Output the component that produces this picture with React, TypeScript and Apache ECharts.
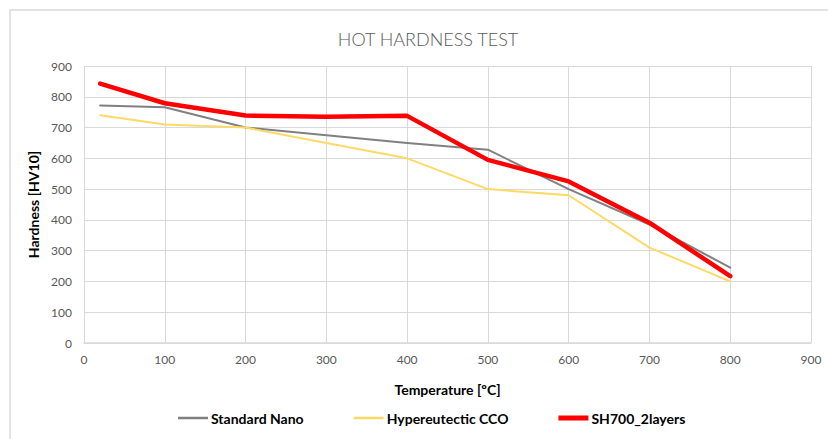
import React, { useEffect, useRef } from "react";
import * as echarts from "echarts";

const temperatures = [20, 100, 200, 300, 400, 500, 600, 700, 800];
const standardNano = [772, 766, 700, 675, 650, 628, 500, 385, 245];
const hypereutecticCCO = [740, 710, 700, 650, 600, 500, 480, 310, 200];
const sh700TwoLayers = [843, 779, 739, 735, 738, 595, 525, 391, 217];

const seriesNames = ["Standard Nano", "Hypereutectic CCO", "SH700_2layers"];
const seriesColors = ["#808080", "#ffd966", "#ff0000"];
const seriesWidths = [2, 2, 4.5];
const legendIcons = [
  "path://M0,0 L30,0 L30,0 Z M0,1.7 L30,1.7 L30,4.3 L0,4.3 Z M0,6 L30,6 L30,6 Z",
  "path://M0,0 L30,0 L30,0 Z M0,1.7 L30,1.7 L30,4.3 L0,4.3 Z M0,6 L30,6 L30,6 Z",
  "path://M0,0 L30,0 L30,0 Z M0,0.6 L30,0.6 L30,5.4 L0,5.4 Z M0,6 L30,6 L30,6 Z",
];

const pair = (vals: number[]) => temperatures.map((t, i) => [t, vals[i]]);

export default function App() {
  const ref = useRef<HTMLDivElement>(null);
  useEffect(() => {
    if (!ref.current) return;
    const chart = echarts.init(ref.current, null, { renderer: "svg" });
    const data = [standardNano, hypereutecticCCO, sh700TwoLayers];
    chart.setOption({
      animation: false,
      backgroundColor: "#ffffff",
      textStyle: { fontFamily: "Lato" },
      title: {
        text: "HOT HARDNESS TEST",
        left: 423,
        textAlign: "center",
        top: 25,
        textStyle: { fontFamily: "Lato", fontWeight: 300, fontSize: 18, color: "#595959" },
      },
      graphic: [
        {
          type: "polyline",
          shape: { points: [[10, 450], [10, 10], [840, 10]] },
          style: { stroke: "#d9d9d9", lineWidth: 1.5, fill: null },
          silent: true,
        },
      ],
      grid: { left: 84, right: 17, top: 66, bottom: 96, containLabel: false },
      legend: {
        bottom: 9,
        left: 173,
        itemWidth: 30,
        itemHeight: 6,
        itemGap: 50,
        itemStyle: { borderWidth: 0 },
        data: seriesNames.map((n, i) => ({ name: n, icon: legendIcons[i] })),
        textStyle: { fontFamily: "Lato", fontWeight: "bold", fontSize: 14, color: "#000000", padding: [0, 0, 0, -2] },
      },
      xAxis: {
        type: "value",
        min: 0,
        max: 900,
        interval: 100,
        name: "Temperature [ºC]",
        nameLocation: "middle",
        nameGap: 39,
        nameTextStyle: { fontFamily: "Lato", fontWeight: "bold", fontSize: 14, color: "#000000" },
        axisLine: { show: true, lineStyle: { color: "#d9d9d9", width: 1.5 } },
        axisTick: { show: false },
        axisLabel: { color: "#595959", fontSize: 12, margin: 10 },
        splitLine: { show: true, lineStyle: { color: "#d9d9d9", width: 1 } },
      },
      yAxis: {
        type: "value",
        min: 0,
        max: 900,
        interval: 100,
        name: "Hardness [HV10]",
        nameLocation: "middle",
        nameGap: 34,
        nameTextStyle: { fontFamily: "Lato", fontWeight: "bold", fontSize: 14, color: "#000000" },
        axisLine: { show: false },
        axisTick: { show: false },
        axisLabel: { color: "#595959", fontSize: 12, margin: 12 },
        splitLine: { show: true, lineStyle: { color: "#d9d9d9", width: 1 } },
      },
      series: data.map((vals, i) => ({
        name: seriesNames[i],
        type: "line",
        data: pair(vals),
        symbol: "none",
        color: seriesColors[i],
        lineStyle: { color: seriesColors[i], width: seriesWidths[i], cap: "round", join: "round" },
        z: 2 + i,
      })),
    });
    return () => chart.dispose();
  }, []);
  return (
    <div
      ref={ref}
      style={{ position: "fixed", left: 0, top: 0, width: 828, height: 439 }}
    />
  );
}
